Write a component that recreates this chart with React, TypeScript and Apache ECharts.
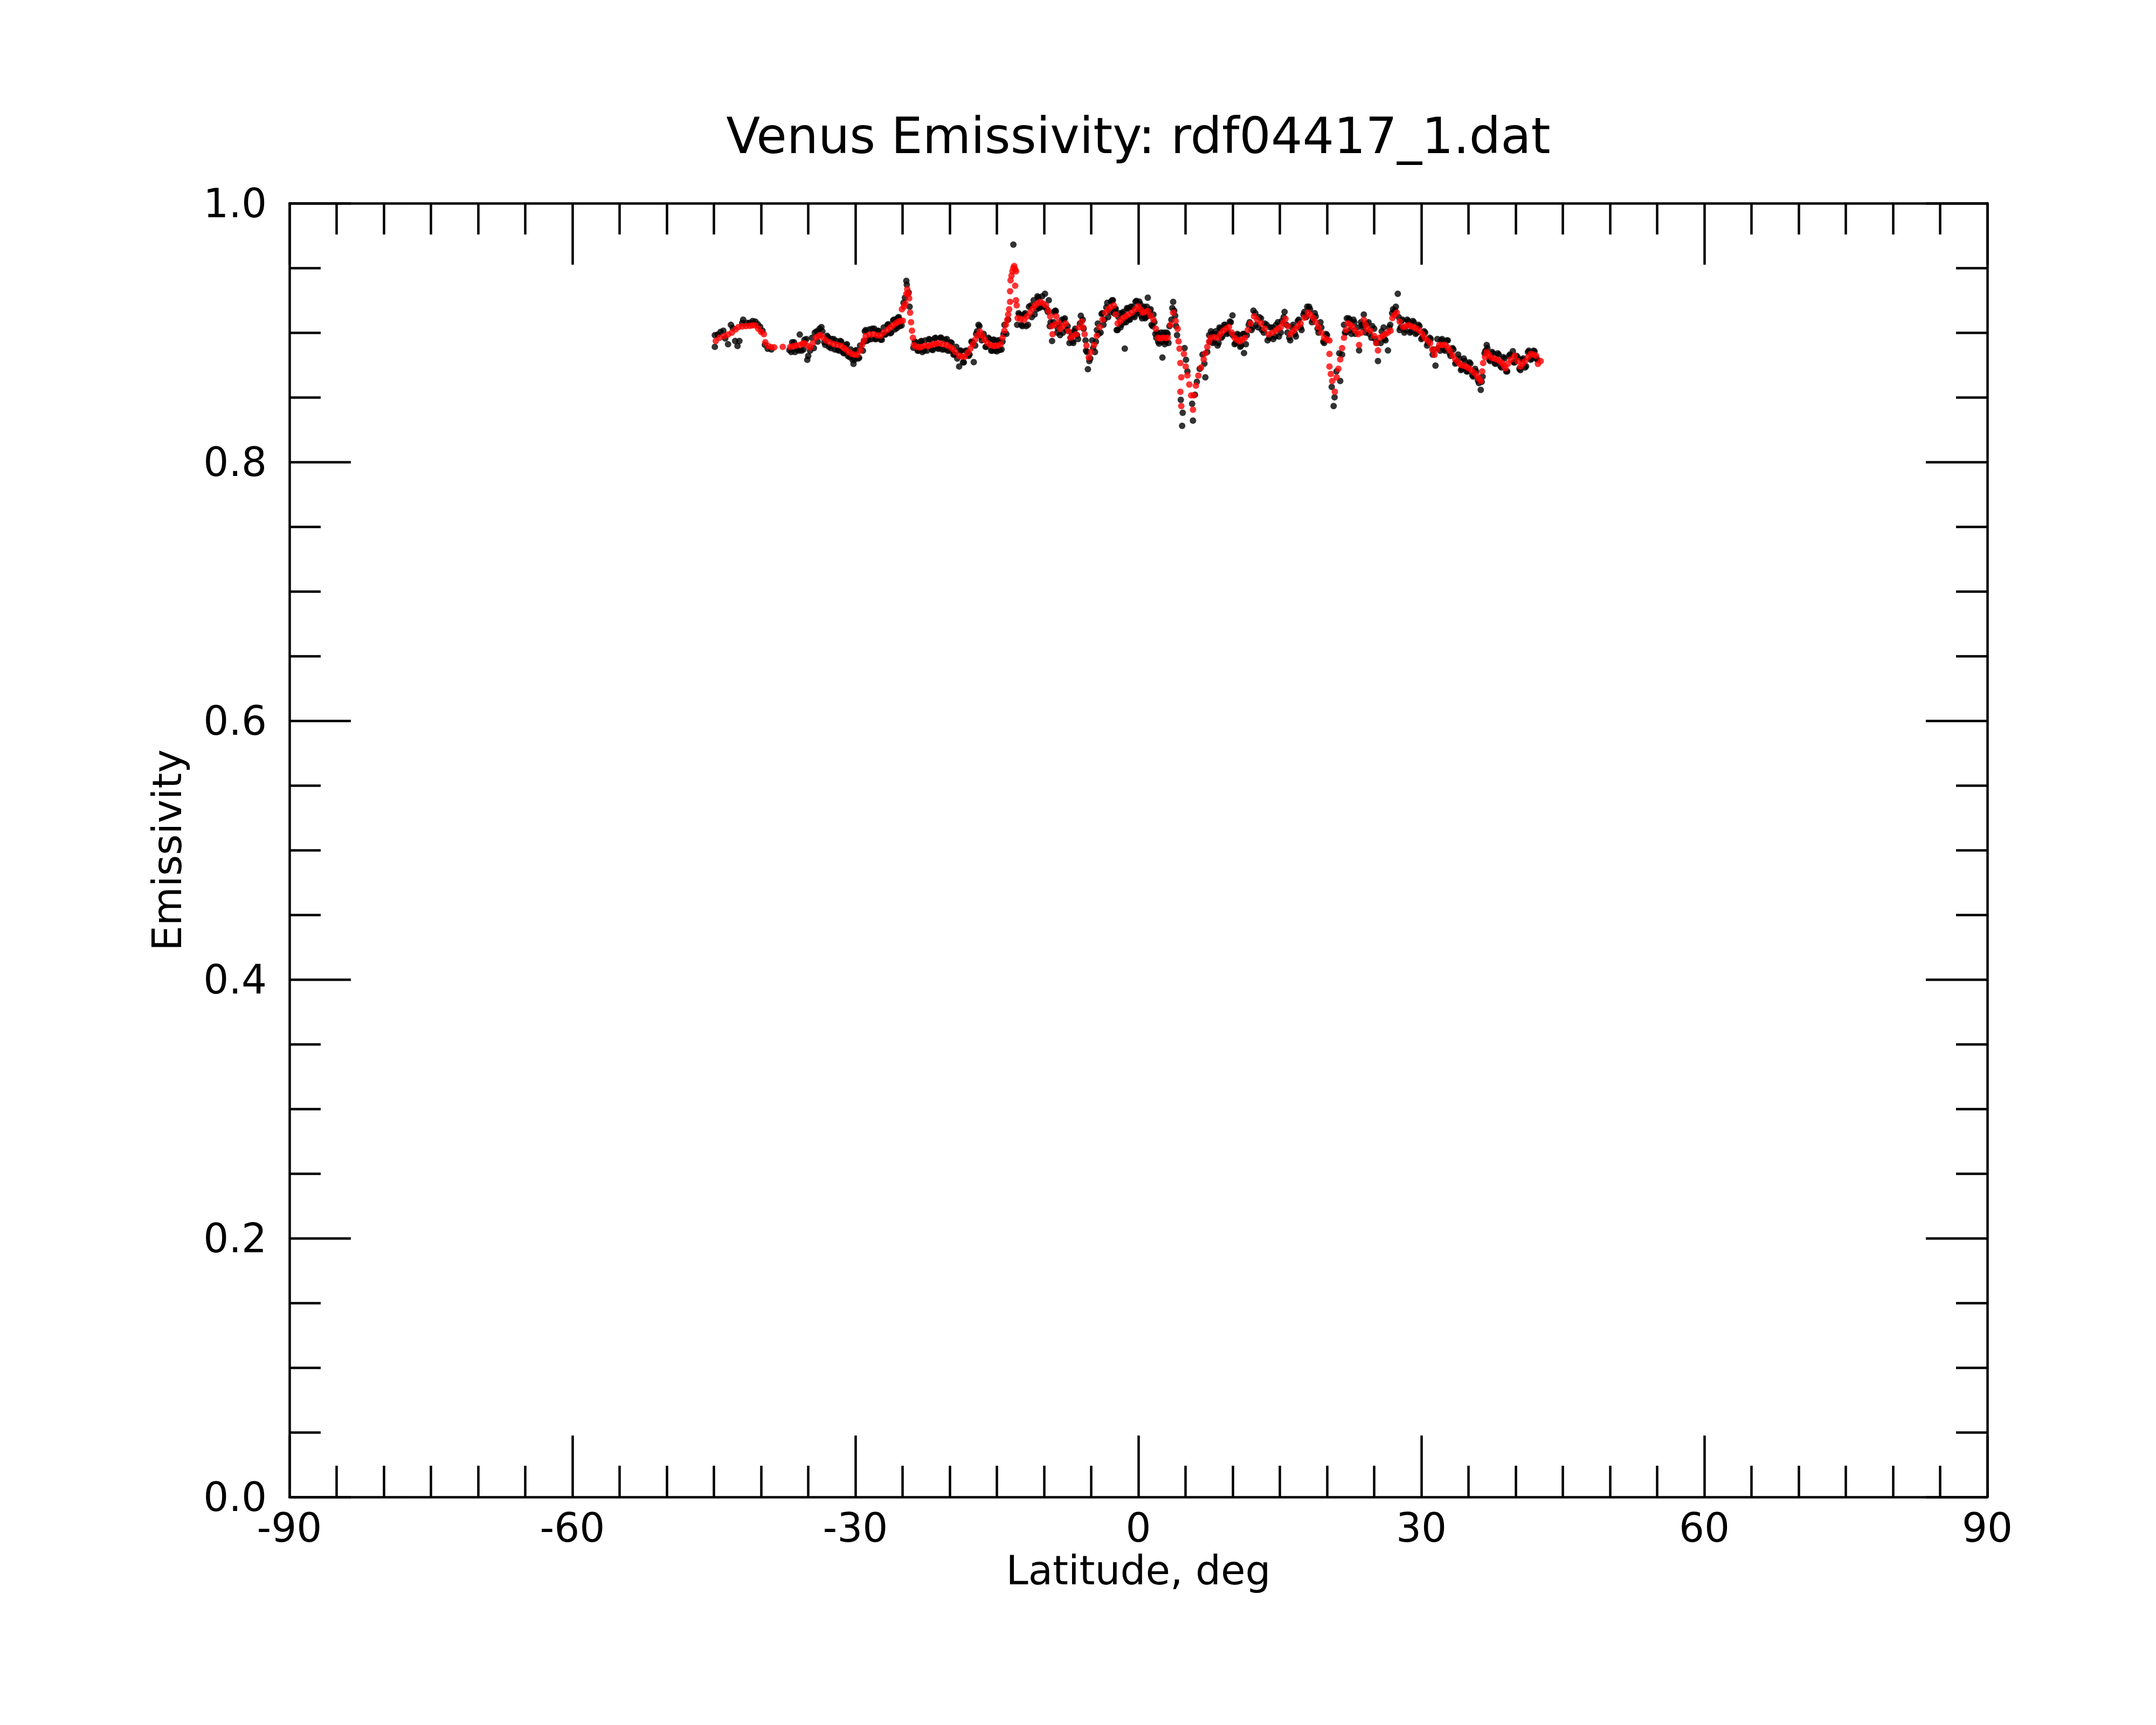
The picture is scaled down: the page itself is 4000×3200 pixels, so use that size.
import React, { useEffect, useRef } from "react";
import * as echarts from "echarts";

const TITLE = "Venus Emissivity: rdf04417_1.dat";
const X_NAME = "Latitude, deg";
const Y_NAME = "Emissivity";
const X_MIN = -90;
const X_MAX = 90;
const X_STEP = 30;
const Y_MIN = 0;
const Y_MAX = 1;
const Y_STEP = 0.2;

// smoothed emissivity (red dots): [latitude, emissivity]
const smoothed: [number, number][] = [
  [-44.8,0.8935],[-44.4,0.896],[-43.9,0.8974],[-43.5,0.8985],[-43.1,0.900],[-42.7,0.9025],[-42.4,0.9043],[-42.0,0.9048],[-41.6,0.905],[-41.2,0.9052],[-40.9,0.9056],[-40.6,0.9055],[-40.3,0.903],[-40.0,0.9005],[-39.7,0.8988],
  [-39.55,0.8925],[-39.25,0.8897],[-38.9,0.8888],[-38.6,0.8886],[-37.7,0.889],
  [-36.9,0.8890],[-36.6,0.8895],[-36.3,0.8900],[-35.9,0.8904],[-35.6,0.8915],[-35.4,0.8918],[-35.1,0.8900],[-34.8,0.8885],[-34.5,0.8920],[-34.2,0.8960],[-33.9,0.8975],[-33.7,0.8980],[-33.4,0.8960],[-33.1,0.8939],[-32.7,0.8925],[-32.3,0.8910],[-31.9,0.8905],[-31.5,0.8897],[-31.2,0.8880],[-31.0,0.8870],[-30.7,0.8850],[-30.4,0.8835],[-30.1,0.8830],[-29.8,0.8828],[-29.5,0.8860],[-29.3,0.8904],[-29.1,0.8940],[-28.9,0.8974],[-28.5,0.8985],[-28.1,0.8988],[-27.7,0.8980],[-27.35,0.8976],[-27.0,0.9000],[-26.6,0.9022],[-26.3,0.9040],[-26.0,0.9057],[-25.7,0.9072],[-25.45,0.9085],[-25.2,0.9090],[-24.97,0.9092],[-25.07,0.9180],[-24.85,0.9200],[-24.7,0.9224],[-24.6,0.9300],[-24.5,0.9335],[-24.4,0.9300],[-24.3,0.9265],[-24.2,0.9154],[-24.1,0.9080],[-24.0,0.9015],[-23.9,0.8960],[-23.8,0.8904],
  [-23.5,0.8890],[-23.2,0.8885],[-22.97,0.8890],[-22.6,0.8900],[-22.3,0.8895],[-22.0,0.8904],[-21.7,0.8910],[-21.4,0.8915],[-21.1,0.8918],[-20.7,0.8910],[-20.3,0.8904],[-20.0,0.8890],[-19.7,0.8876],[-19.4,0.8850],[-19.0,0.8821],[-18.7,0.8815],[-18.4,0.8814],[-18.1,0.8845],[-17.8,0.8876],[-17.55,0.8910],[-17.3,0.8946],[-17.05,0.8980],[-16.8,0.9008],[-16.55,0.8975],[-16.3,0.8946],[-16.0,0.8920],[-15.7,0.8904],[-15.4,0.8898],[-15.2,0.8897],[-14.9,0.8900],[-14.6,0.8910],[-14.4,0.8960],[-14.2,0.9015],[-14.05,0.9060],[-13.9,0.9099],[-13.8,0.9140],[-13.7,0.9180],[-13.6,0.9238],[-13.6,0.9320],[-13.55,0.9404],[-13.45,0.9440],[-13.35,0.9474],[-13.25,0.9500],[-13.16,0.9515],[-13.06,0.9490],[-12.97,0.9474],[-13.06,0.9362],[-12.97,0.9250],[-12.9,0.9210],[-12.8,0.9112],
  [-12.5,0.9105],[-12.1,0.9099],[-11.8,0.9125],[-11.5,0.9154],[-11.2,0.9185],[-10.97,0.9210],[-10.7,0.9225],[-10.4,0.9238],[-10.1,0.9225],[-9.8,0.9210],[-9.55,0.9170],[-9.35,0.9126],[-9.2,0.9050],[-9.1,0.8988],[-8.9,0.9060],[-8.7,0.9126],[-8.5,0.9080],[-8.3,0.9029],[-8.0,0.9050],[-7.7,0.9071],[-7.4,0.9010],[-7.16,0.8960],[-6.9,0.8975],[-6.6,0.8988],[-6.3,0.9040],[-6.0,0.9085],[-5.85,0.9040],[-5.7,0.8988],[-5.5,0.8900],[-5.26,0.8807],[-5.0,0.8850],[-4.7,0.8904],[-4.4,0.8975],[-4.1,0.9043],[-3.8,0.9100],[-3.5,0.9154],[-3.2,0.9180],[-2.97,0.9196],[-2.6,0.9210],[-2.4,0.9140],[-2.2,0.9071],[-1.9,0.9090],[-1.64,0.9112],[-1.35,0.9125],[-1.07,0.9140],[-0.7,0.9154],[-0.35,0.9180],[-0.02,0.9203],[0.2,0.9180],[0.45,0.9154],[0.7,0.9160],[1.0,0.9168],[1.3,0.9130],[1.6,0.9099],[1.85,0.9030],[2.07,0.8960],[2.3,0.8955],[2.55,0.8960],[2.85,0.8958],[3.12,0.8960],[3.4,0.9060],[3.69,0.9154],[3.95,0.9090],[4.17,0.9029],
  [4.26,0.8932],[4.36,0.8876],[4.45,0.8765],[4.55,0.8654],[4.45,0.8543],[4.55,0.8432],[4.83,0.8835],[5.02,0.8738],[5.2,0.8670],[5.4,0.8599],[5.6,0.8515],[5.79,0.8404],[5.88,0.8515],[6.1,0.8590],[6.36,0.8668],[6.65,0.8730],[6.93,0.8793],[7.1,0.8840],[7.31,0.8890],[7.5,0.8930],[7.69,0.8960],[8.05,0.8965],[8.45,0.8960],[8.7,0.8990],[9.0,0.9015],[9.3,0.9030],[9.6,0.9043],[9.9,0.9000],[10.2,0.8960],[10.45,0.8945],[10.74,0.8932],[11.0,0.8945],[11.3,0.8960],[11.6,0.9020],[11.9,0.9071],[12.26,0.9126],[12.6,0.9100],[13.0,0.9071],[13.4,0.9030],[13.8,0.8988],[14.2,0.9000],[14.55,0.9015],[14.8,0.9030],[15.1,0.9043],[15.35,0.9075],[15.6,0.9106],[15.85,0.9050],[16.1,0.8988],[16.4,0.9010],[16.64,0.9029],[16.9,0.9050],[17.2,0.9071],[17.6,0.9115],[17.98,0.9154],[18.25,0.9135],[18.55,0.9112],[18.8,0.9080],[19.1,0.9043],[19.4,0.9000],[19.7,0.8960],[20.0,0.8945],[20.26,0.8939],
  [20.26,0.8835],[20.26,0.8738],[20.4,0.8680],[20.55,0.8626],[20.83,0.8543],[21.02,0.8654],[21.2,0.8720],[21.4,0.8793],[21.6,0.8880],[21.8,0.8960],[22.0,0.9020],[22.2,0.9071],[22.45,0.9060],[22.74,0.9043],[23.0,0.9015],[23.3,0.8988],[23.4,0.8904],[23.65,0.9000],[23.9,0.9099],[24.1,0.9060],[24.26,0.9029],[24.6,0.9015],[25.0,0.8974],[25.2,0.8920],[25.4,0.8862],[25.6,0.8960],[25.9,0.8975],[26.17,0.8988],[26.45,0.9000],[26.74,0.9015],[26.93,0.9112],[27.15,0.9135],[27.4,0.9154],[27.7,0.9085],[28.07,0.9043],[28.35,0.9050],[28.65,0.9057],[28.9,0.9050],[29.2,0.9043],[29.5,0.9030],[29.8,0.9015],[30.1,0.8990],[30.36,0.8960],[30.65,0.8940],[30.93,0.8918],[31.15,0.8870],[31.4,0.8828],[31.65,0.8870],[31.9,0.8904],[32.2,0.8904],[32.55,0.8904],[32.8,0.8885],[33.0,0.8862],[33.3,0.8825],[33.6,0.8793],[33.9,0.8770],[34.17,0.8751],[34.45,0.8745],[34.74,0.8738],[35.0,0.8725],[35.3,0.8710],[35.6,0.8690],[35.9,0.8668],[36.1,0.8645],[36.3,0.8626],[36.45,0.8700],[36.55,0.8765],[36.75,0.8810],[36.93,0.8849],[37.15,0.8830],[37.4,0.8807],[37.7,0.8800],[38.0,0.8793],[38.3,0.8780],[38.55,0.8765],[38.75,0.8745],[38.93,0.8724],[39.2,0.8760],[39.5,0.8793],[39.9,0.8821],[40.2,0.8780],[40.5,0.8738],[40.75,0.8760],[41.0,0.8780],[41.3,0.8810],[41.6,0.8835],[41.9,0.8830],[42.17,0.8821],[42.36,0.8758],[42.65,0.8780],
];

// raw emissivity samples (black dots): [latitude, emissivity]
const raw: [number, number][] = [
  [-44.9,0.898],[-44.9,0.889],[-44.6,0.8985],[-44.3,0.9005],[-44.0,0.9015],[-43.8,0.8955],[-43.5,0.891],[-43.2,0.906],[-43.0,0.9035],[-42.75,0.8935],[-42.5,0.8897],[-42.3,0.8935],[-42.0,0.9075],[-41.9,0.910],[-41.5,0.9075],[-41.2,0.9075],[-40.9,0.909],[-40.6,0.9085],[-40.35,0.9065],[-40.1,0.9045],[-39.85,0.9015],[-39.6,0.8905],[-39.3,0.8875],[-38.9,0.8870],
  [-37.0,0.8865],[-36.8,0.8850],[-36.5,0.8925],[-36.2,0.8870],[-35.9,0.8985],[-35.7,0.8860],[-35.4,0.8945],[-35.1,0.8790],[-35.0,0.8820],[-34.8,0.8860],[-34.6,0.8960],[-34.3,0.9000],[-34.0,0.8930],[-33.8,0.9030],[-33.6,0.9043],[-33.3,0.8925],[-33.0,0.8975],[-32.8,0.8890],[-32.5,0.8950],[-32.2,0.8870],[-32.0,0.8935],[-31.7,0.8860],[-31.5,0.8930],[-31.2,0.8840],[-31.0,0.8905],[-30.8,0.8820],[-30.5,0.8870],[-30.3,0.8790],[-30.2,0.8758],[-30.0,0.8860],[-29.7,0.8800],[-29.5,0.8900],[-29.2,0.8860],[-29.0,0.9010],[-28.8,0.8935],[-28.5,0.9025],[-28.3,0.8950],[-28.0,0.9030],[-27.8,0.8950],[-27.5,0.9010],[-27.2,0.8945],[-27.0,0.9040],[-26.8,0.8985],[-26.5,0.9065],[-26.2,0.9000],[-26.0,0.9095],[-25.8,0.9025],[-25.5,0.9115],[-25.3,0.9050],[-25.1,0.9055],[-24.9,0.9230],[-24.75,0.9270],[-24.6,0.9400],[-24.55,0.9370],[-24.35,0.9310],[-24.25,0.9200],
  [-36.7,0.8925],[-36.4,0.8850],[-36.0,0.8860],[-35.5,0.8870],[-35.2,0.8950],[-34.4,0.8880],[-34.1,0.9010],[-33.5,0.9010],[-33.2,0.8905],[-32.9,0.8965],[-32.6,0.8880],[-32.3,0.8950],[-31.9,0.8865],[-31.6,0.8935],[-31.3,0.8845],[-30.9,0.8910],[-30.6,0.8810],[-30.1,0.8790],[-29.9,0.8865],[-29.6,0.8805],[-29.1,0.8930],[-28.9,0.9020],[-28.6,0.8945],[-28.2,0.9030],[-27.9,0.8950],[-27.6,0.9015],[-27.3,0.8945],[-26.9,0.8985],[-26.6,0.9060],[-26.3,0.8995],[-25.9,0.9100],[-25.6,0.9035],[-25.4,0.9120],
  [-23.85,0.8883],[-23.6,0.8925],[-23.4,0.8860],[-23.1,0.8930],[-22.9,0.8850],[-22.6,0.8940],[-22.4,0.8860],[-22.1,0.8945],[-21.9,0.8870],[-21.6,0.8955],[-21.3,0.8880],[-21.0,0.8960],[-20.8,0.8870],[-20.5,0.8945],[-20.2,0.8860],[-19.9,0.8925],[-19.6,0.8830],[-19.3,0.8890],[-19.0,0.8738],[-18.8,0.8860],[-18.5,0.8770],[-18.2,0.8860],[-17.9,0.8830],[-17.45,0.8772],[-17.6,0.8925],[-17.3,0.8900],[-17.1,0.9010],[-16.85,0.9050],[-16.6,0.8940],[-16.4,0.8990],[-16.1,0.8890],[-15.9,0.8960],[-15.6,0.8860],[-15.4,0.8945],[-15.2,0.8860],[-14.9,0.8940],[-14.7,0.8865],[-14.4,0.8930],[-14.2,0.9060],[-14.0,0.8990],[-13.8,0.9100],[-13.25,0.968],
  [-23.7,0.8930],[-23.3,0.8860],[-23.0,0.8935],[-22.7,0.8860],[-22.2,0.8950],[-21.8,0.8865],[-21.5,0.8960],[-21.2,0.8875],[-20.9,0.8960],[-20.6,0.8870],[-20.3,0.8950],[-20.0,0.8860],[-19.8,0.8920],[-19.5,0.8830],[-19.2,0.8800],[-18.9,0.8860],[-18.6,0.8770],[-18.3,0.8860],[-18.0,0.8820],[-17.7,0.8930],[-17.2,0.8990],[-16.95,0.9060],[-16.7,0.8970],[-16.2,0.8890],[-15.8,0.8950],[-15.5,0.8860],[-15.3,0.8945],[-15.0,0.8855],[-14.8,0.8940],[-14.5,0.8870],[-14.3,0.8990],
  [-12.85,0.9060],[-12.6,0.9140],[-12.4,0.9060],[-12.1,0.9140],[-11.9,0.9050],[-11.6,0.9200],[-11.3,0.9120],[-11.1,0.9250],[-10.8,0.9180],[-10.6,0.9270],[-10.3,0.9200],[-9.9,0.9300],[-9.7,0.9180],[-9.5,0.9250],[-9.3,0.9080],[-9.15,0.8935],[-8.95,0.9160],[-8.75,0.9165],[-8.55,0.9035],[-8.3,0.8980],[-8.1,0.9100],[-7.8,0.9110],[-7.6,0.9020],[-7.3,0.8920],[-7.1,0.9000],[-6.9,0.8920],[-6.7,0.9030],[-6.4,0.8950],[-6.1,0.9130],[-5.9,0.9100],[-5.6,0.8940],[-5.45,0.8850],[-5.35,0.8717],[-5.1,0.8800],[-4.9,0.8940],[-4.6,0.8850],[-4.4,0.9020],[-4.2,0.8990],[-3.9,0.9145],[-3.7,0.9060],[-3.4,0.9195],[-3.2,0.9120],[-2.9,0.9240],[-2.78,0.9250],[-2.6,0.9150],[-2.4,0.9185],[-2.2,0.9020],[-2.0,0.9150],[-1.8,0.9060],[-1.6,0.9160],[-1.44,0.8876],[-1.3,0.9080],[-1.1,0.9185],[-0.9,0.9100],[-0.6,0.9200],[-0.4,0.9120],[-0.2,0.9245],[0.0,0.9160],[0.2,0.9220],[0.4,0.9110],[0.6,0.9200],[0.8,0.9120],[1.0,0.927],[1.2,0.9170],[1.4,0.9060],[1.6,0.9140],[1.8,0.8990],[2.0,0.9000],[2.2,0.8915],[2.4,0.9000],[2.55,0.8807],[2.8,0.8910],[3.0,0.9000],[3.2,0.8920],[3.5,0.9100],[3.69,0.9238],[3.9,0.9130],[4.1,0.8980],
  [-12.7,0.9150],[-12.3,0.9050],[-12.0,0.9150],[-11.7,0.9060],[-11.4,0.9210],[-11.0,0.9140],[-10.7,0.9280],[-10.5,0.9190],[-10.2,0.9280],[-10.0,0.9200],[-9.6,0.9160],[-9.4,0.9050],[-9.0,0.9080],[-8.8,0.9170],[-8.6,0.9000],[-8.4,0.9060],[-8.0,0.9000],[-7.9,0.9100],[-7.5,0.9050],[-7.2,0.8960],[-7.0,0.8930],[-6.8,0.9010],[-6.5,0.8980],[-6.2,0.9070],[-5.8,0.9030],[-5.55,0.8860],[-5.2,0.8780],[-4.8,0.8880],[-4.5,0.8930],[-4.3,0.9070],[-4.0,0.9000],[-3.8,0.9150],[-3.6,0.9100],[-3.3,0.9230],[-3.0,0.9160],[-2.7,0.9250],[-2.5,0.9180],[-2.3,0.9020],[-2.1,0.9120],[-1.9,0.9040],[-1.7,0.9150],[-1.5,0.9080],[-1.2,0.9190],[-1.0,0.9100],[-0.8,0.9200],[-0.5,0.9130],[-0.3,0.9240],[-0.1,0.9150],[0.1,0.9240],[0.3,0.9130],[0.5,0.9190],[0.7,0.9110],[0.9,0.9200],[1.1,0.9130],[1.3,0.9180],[1.5,0.9050],[1.7,0.9080],[1.9,0.8960],[2.1,0.8930],[2.3,0.8980],[2.5,0.8930],[2.7,0.9000],[2.9,0.8930],[3.1,0.8990],[3.3,0.9050],[3.6,0.9190],[3.8,0.9170],[4.0,0.9050],
  [4.64,0.8279],[4.5,0.8480],[4.7,0.8380],[4.9,0.8880],[5.05,0.8790],[5.2,0.8700],[5.79,0.832],[5.7,0.8450],[6.0,0.8520],[6.2,0.8620],[6.5,0.8720],[6.8,0.8830],[7.1,0.8654],[7.3,0.8850],[7.0,0.8760],[7.5,0.8980],[7.7,0.9010],[7.9,0.8920],[8.2,0.9010],[8.4,0.8900],[8.6,0.9040],[8.8,0.8960],[9.1,0.9060],[9.4,0.8990],[9.7,0.9085],[9.98,0.9133],[10.2,0.8910],[10.5,0.8990],[10.8,0.8890],[11.2,0.8842],[11.1,0.8990],[11.4,0.8910],[11.7,0.9060],[12.0,0.9020],[12.2,0.9170],[12.5,0.9060],[12.8,0.9120],[13.1,0.9020],[13.4,0.9070],[13.7,0.8940],[14.0,0.9040],[14.3,0.8950],[14.6,0.9060],[14.9,0.8970],[15.2,0.9090],[15.5,0.9160],[15.8,0.9000],[16.1,0.8940],[16.4,0.9060],[16.7,0.8970],[17.0,0.9100],[17.3,0.9020],[17.6,0.9160],[17.9,0.9200],[18.2,0.9180],[18.5,0.9100],[18.8,0.9125],[19.1,0.9000],[19.4,0.9040],[19.7,0.8920],[20.0,0.8980],
  [7.6,0.8930],[7.8,0.8990],[8.0,0.8930],[8.3,0.8990],[8.5,0.8920],[8.7,0.9030],[8.9,0.8970],[9.2,0.9060],[9.5,0.9000],[9.8,0.9080],[10.0,0.8980],[10.3,0.8920],[10.6,0.8980],[10.9,0.8900],[11.2,0.8990],[11.5,0.8980],[11.8,0.9080],[12.1,0.9040],[12.4,0.9150],[12.7,0.9040],[13.0,0.9110],[13.3,0.9000],[13.6,0.9060],[13.9,0.8960],[14.2,0.9040],[14.5,0.8970],[14.8,0.9080],[15.1,0.9000],[15.4,0.9120],[15.7,0.9060],[16.0,0.8960],[16.3,0.9040],[16.6,0.8990],[16.9,0.9090],[17.2,0.9040],[17.5,0.9140],[17.8,0.9120],[18.1,0.9200],[18.4,0.9080],[18.7,0.9150],[19.0,0.9030],[19.3,0.9080],[19.6,0.8930],[19.9,0.8990],
  [20.7,0.8432],[20.5,0.8580],[20.8,0.8500],[21.0,0.8700],[21.4,0.8626],[21.3,0.8840],[21.6,0.8830],[21.9,0.9000],[22.1,0.9110],[22.4,0.9100],[22.6,0.8990],[22.9,0.9080],[23.2,0.9040],[23.4,0.8862],[23.7,0.9060],[23.9,0.9140],[24.1,0.9000],[24.4,0.9080],[24.7,0.8960],[25.0,0.9030],[25.3,0.8920],[25.4,0.878],[25.7,0.8920],[26.0,0.9040],[26.2,0.8940],[26.46,0.8862],[26.7,0.9060],[27.0,0.9180],[27.3,0.9200],[27.5,0.930],[27.7,0.9020],[27.9,0.9090],[28.2,0.9000],[28.5,0.9100],[28.8,0.9000],[29.1,0.9090],[29.4,0.8990],[29.7,0.9060],[30.0,0.8950],[30.3,0.9010],[30.6,0.8900],[30.9,0.8960],[31.2,0.8830],[31.5,0.8745],[31.7,0.8950],[32.0,0.8860],[32.2,0.8950],[32.5,0.8860],[32.8,0.8940],[33.1,0.8820],[33.3,0.8880],[33.6,0.8760],[33.9,0.8830],[34.2,0.8710],[34.5,0.8800],[34.8,0.8700],[35.1,0.8770],[35.4,0.8670],[35.7,0.8720],[36.0,0.8630],[36.3,0.8557],[36.5,0.8660],[36.7,0.8840],[36.93,0.8904],[37.2,0.8790],[37.5,0.8850],[37.8,0.8760],[38.1,0.8840],[38.4,0.8740],[38.7,0.8810],[39.0,0.8700],[39.3,0.8820],[39.7,0.8856],[39.9,0.8770],[40.2,0.8810],[40.5,0.8710],[40.8,0.8800],[41.1,0.8740],[41.4,0.8860],[41.7,0.8800],[42.0,0.8855],[42.3,0.8790],
  [21.8,0.9060],[22.0,0.9000],[22.3,0.9110],[22.5,0.9020],[22.8,0.9100],[23.0,0.8990],[23.6,0.9080],[23.8,0.9040],[24.2,0.9070],[24.5,0.8990],[24.8,0.9050],[25.1,0.8950],[25.8,0.9010],[26.1,0.8950],[26.6,0.9040],[26.9,0.9150],[27.2,0.9170],[27.6,0.9120],[27.8,0.9040],[28.0,0.9100],[28.3,0.9020],[28.6,0.9090],[28.9,0.9010],[29.2,0.9080],[29.5,0.9000],[29.8,0.9050],[30.1,0.8960],[30.4,0.9000],[30.7,0.8920],[31.0,0.8950],[31.3,0.8870],[31.8,0.8880],[32.1,0.8940],[32.4,0.8870],[32.7,0.8940],[33.0,0.8840],[33.4,0.8870],[33.7,0.8770],[34.0,0.8800],[34.3,0.8720],[34.6,0.8780],[34.9,0.8700],[35.2,0.8760],[35.5,0.8660],[35.8,0.8700],[36.1,0.8610],[36.4,0.8620],[36.8,0.8860],[37.0,0.8880],[37.3,0.8780],[37.6,0.8840],[37.9,0.8760],[38.2,0.8830],[38.5,0.8730],[38.8,0.8800],[39.1,0.8700],[39.4,0.8830],[39.8,0.8770],[40.1,0.8820],[40.4,0.8720],[40.7,0.8790],[41.0,0.8730],[41.3,0.8850],[41.6,0.8790],[41.9,0.8860],[42.2,0.8800],
];

const FONT = "DejaVu Sans";
const LW = 4.5;

function buildOption(): any {
  const line = { show: true, onZero: false, lineStyle: { color: "#000", width: LW } };
  const tick = { show: true, inside: true, length: 114, lineStyle: { color: "#000", width: LW } };
  const xMinor = { show: true, splitNumber: 6, length: 58, lineStyle: { color: "#000", width: LW } };
  const yMinor = { show: true, splitNumber: 4, length: 58, lineStyle: { color: "#000", width: LW } };
  const baseX = { type: "value", min: X_MIN, max: X_MAX, interval: X_STEP, splitLine: { show: false }, axisLine: line, axisTick: tick, minorTick: xMinor };
  const baseY = { type: "value", min: Y_MIN, max: Y_MAX, interval: Y_STEP, splitLine: { show: false }, axisLine: line, axisTick: tick, minorTick: yMinor };
  return {
    animation: false,
    backgroundColor: "#fff",
    textStyle: { fontFamily: FONT },
    grid: { left: 537, top: 377, width: 3150, height: 2400, containLabel: false },
    graphic: [
      {
        type: "text",
        x: 2112,
        y: 252,
        style: { text: TITLE, fontSize: 92, fontFamily: FONT, fill: "#000", textAlign: "center", textVerticalAlign: "middle" },
      },
    ],
    xAxis: [
      {
        ...baseX,
        position: "bottom",
        name: X_NAME,
        nameLocation: "middle",
        nameGap: 94,
        nameTextStyle: { fontSize: 74, color: "#000", fontFamily: FONT },
        axisLabel: { show: true, fontSize: 74, color: "#000", fontFamily: FONT, margin: 20 },
      },
      { ...baseX, position: "top", axisLabel: { show: false } },
    ],
    yAxis: [
      {
        ...baseY,
        position: "left",
        name: Y_NAME,
        nameLocation: "middle",
        nameGap: 190,
        nameTextStyle: { fontSize: 74, color: "#000", fontFamily: FONT },
        axisLabel: { show: true, fontSize: 74, color: "#000", fontFamily: FONT, margin: 42, formatter: (v: number) => v.toFixed(1) },
      },
      { ...baseY, position: "right", axisLabel: { show: false } },
    ],
    series: [
      { type: "scatter", name: "raw", data: raw, symbol: "circle", symbolSize: 12, itemStyle: { color: "#000" }, xAxisIndex: 0, yAxisIndex: 0, z: 2, silent: true },
      { type: "scatter", name: "smoothed", data: smoothed, symbol: "circle", symbolSize: 12, itemStyle: { color: "#ff0000" }, xAxisIndex: 0, yAxisIndex: 0, z: 3, silent: true },
    ],
  };
}

export default function App() {
  const ref = useRef<HTMLDivElement>(null);
  useEffect(() => {
    if (!ref.current) return;
    const chart = echarts.init(ref.current, undefined, { renderer: "svg" });
    chart.setOption(buildOption());
    return () => chart.dispose();
  }, []);
  return <div ref={ref} style={{ position: "absolute", left: 0, top: 0, width: 4000, height: 3200, background: "#fff" }} />;
}
